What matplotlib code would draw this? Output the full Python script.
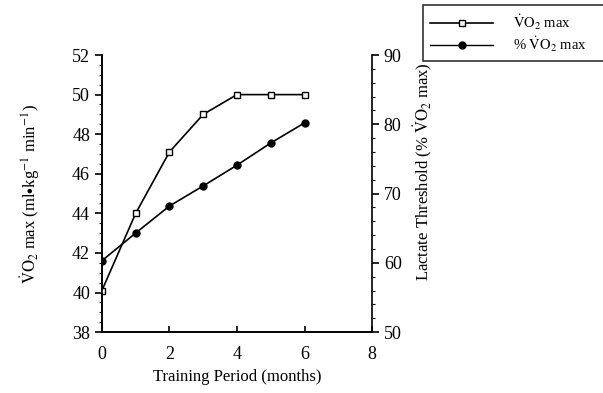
import matplotlib
matplotlib.use("Agg")
import matplotlib.pyplot as plt
from matplotlib.ticker import MultipleLocator
from matplotlib.lines import Line2D

plt.rcParams['font.family'] = ['Liberation Serif', 'DejaVu Serif']
plt.rcParams['mathtext.fontset'] = 'stix'

# data
months = [0, 1, 2, 3, 4, 5, 6]
vo2max = [40.1, 44.0, 47.1, 49.0, 50.0, 50.0, 50.0]
lt_pct = [60.3, 64.3, 68.2, 71.1, 74.1, 77.3, 80.2]

fig = plt.figure(figsize=(6.03, 3.93), dpi=100)
ax = fig.add_axes([0.169, 0.155, 0.448, 0.705])
ax2 = ax.twinx()

ax.plot(months, vo2max, color='black', lw=1.2, marker='s', ms=5,
        mfc='white', mec='black', mew=1.0, zorder=3)
ax2.plot(months, lt_pct, color='black', lw=1.2, marker='o', ms=5,
         mfc='black', mec='black', zorder=3)

ax.set_xlim(0, 8)
ax.set_ylim(38, 52)
ax2.set_ylim(50, 90)

ax.xaxis.set_major_locator(MultipleLocator(2))
ax.yaxis.set_major_locator(MultipleLocator(2))
ax.yaxis.set_minor_locator(MultipleLocator(0.5))
ax2.yaxis.set_major_locator(MultipleLocator(10))
ax2.yaxis.set_minor_locator(MultipleLocator(2))

for a in (ax, ax2):
    a.spines['top'].set_visible(False)
    for s in a.spines.values():
        s.set_linewidth(1.2)
ax.spines['right'].set_visible(False)

ax.tick_params(axis='y', which='major', direction='out', length=5, width=1.2, labelsize=13)
ax.tick_params(axis='y', which='minor', direction='out', length=2.5, width=0.8)
ax.tick_params(axis='x', which='major', direction='in', length=4, width=1.2, labelsize=13, pad=10)
ax2.tick_params(axis='y', which='major', direction='out', length=5, width=1.2, labelsize=13)
ax2.tick_params(axis='y', which='minor', direction='out', length=2.5, width=0.8)

ax.set_xlabel('Training Period (months)', fontsize=12, labelpad=4)
ax.set_ylabel(r'$\dot{\mathrm{V}}\mathrm{O}_2$ max (ml$\bullet$kg$^{-1}$ min$^{-1}$)', fontsize=12, labelpad=22)
ax2.set_ylabel(r'Lactate Threshold (% $\dot{\mathrm{V}}\mathrm{O}_2$ max)', fontsize=12, labelpad=8)
ax2.yaxis.set_label_coords(1.148, 0.58)

handles = [
    Line2D([], [], color='black', lw=1.2, marker='s', ms=5, mfc='white', mec='black'),
    Line2D([], [], color='black', lw=1.0, marker='o', ms=5, mfc='black', mec='black'),
]
labels = [r'$\dot{\mathrm{V}}\mathrm{O}_2$ max', r'% $\dot{\mathrm{V}}\mathrm{O}_2$ max']
leg = fig.legend(handles, labels, loc='upper left',
                 bbox_to_anchor=(423 / 603, 1 - 60 / 393, 185 / 603, 55 / 393),
                 mode='expand', fontsize=10.5, frameon=True, fancybox=False,
                 edgecolor='black', handlelength=4.3, handletextpad=1.4,
                 borderpad=0.5, labelspacing=0.2, borderaxespad=0, numpoints=1)
leg.get_frame().set_linewidth(1.2)

fig.savefig('out.png', dpi=100)
